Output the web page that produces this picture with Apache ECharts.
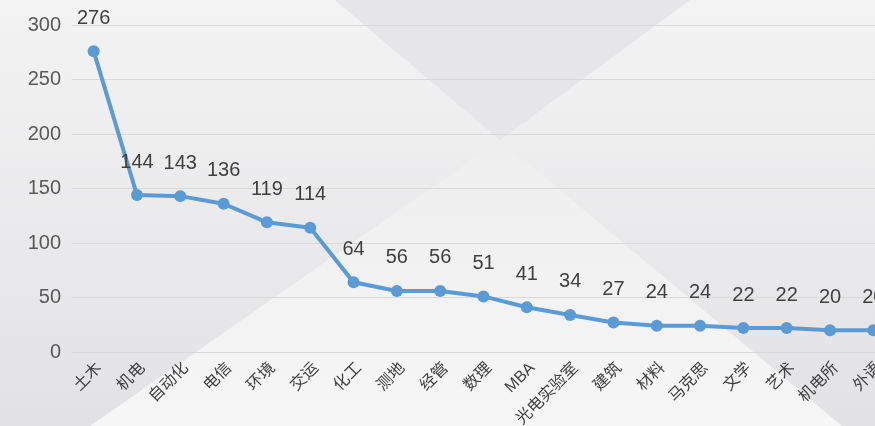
<!DOCTYPE html>
<html>
<head>
<meta charset="utf-8">
<script src="https://cdn.jsdelivr.net/npm/echarts@6/dist/echarts.min.js"></script>
<style>
  html, body { margin: 0; padding: 0; }
  #chartLine { width: 875px; height: 426px; }
</style>
</head>
<body>
<div id="chartLine"></div>
<script>
var categories = ['土木', '机电', '自动化', '电信', '环境', '交运', '化工', '测地', '经管', '数理',
  'MBA', '光电实验室', '建筑', '材料', '马克思', '文学', '艺术', '机电所', '外语'];
var counts = [276, 144, 143, 136, 119, 114, 64, 56, 56, 51, 41, 34, 27, 24, 24, 22, 22, 20, 20];
var yTicks = [0, 50, 100, 150, 200, 250, 300];

var fontFamily = '"Liberation Sans", "Noto Sans CJK SC", sans-serif';

var myChartLine = echarts.init(document.getElementById('chartLine'));
var option = {
  backgroundColor: {
    type: 'linear', x: 0, y: 0, x2: 0, y2: 1,
    colorStops: [
      { offset: 0, color: '#f3f3f4' },
      { offset: 1, color: '#e2e2e4' }
    ]
  },
  animation: false,
  // 背景的斜向几何块
  graphic: [
    {
      type: 'polygon', z: -10, silent: true,
      shape: { points: [[335, 0], [690, 0], [500, 140]] },
      style: { fill: '#e6e6e8' }
    },
    {
      type: 'polygon', z: -10, silent: true,
      shape: { points: [[500, 140], [90, 426], [842, 426]] },
      style: {
        fill: {
          type: 'linear', x: 0, y: 0, x2: 0, y2: 1,
          colorStops: [
            { offset: 0, color: '#eeeeef' },
            { offset: 1, color: '#f6f6f6' }
          ]
        }
      }
    }
  ],
  grid: {
    top: 25,
    left: 72,
    right: -20,
    bottom: 74,
    outerBoundsMode: 'none',
    containLabel: false
  },
  xAxis: {
    type: 'category',
    data: categories,
    boundaryGap: true,
    axisLine: { show: true, lineStyle: { color: '#d9d9d9', width: 1 } },
    axisTick: { show: false },
    axisLabel: {
      rotate: 45,
      interval: 0,
      margin: 8,
      fontSize: 16,
      verticalAlign: 'top',
      color: '#404040',
      fontFamily: fontFamily
    }
  },
  yAxis: {
    type: 'value',
    min: yTicks[0],
    max: yTicks[yTicks.length - 1],
    interval: 50,
    axisLine: { show: false },
    axisTick: { show: false },
    axisLabel: {
      margin: 11,
      fontSize: 20,
      color: '#595959',
      fontFamily: fontFamily
    },
    splitLine: {
      show: true,
      lineStyle: { color: '#d9d9d9', width: 1 }
    }
  },
  series: [
    {
      name: '人数',
      type: 'line',
      data: counts,
      symbol: 'circle',
      symbolSize: 12,
      lineStyle: { color: '#5b9bd5', width: 4 },
      itemStyle: { color: '#5b9bd5' },
      label: {
        show: true,
        position: 'top',
        distance: 17,
        fontSize: 20,
        color: '#404040',
        fontFamily: fontFamily
      }
    }
  ]
};
myChartLine.setOption(option);
</script>
</body>
</html>
